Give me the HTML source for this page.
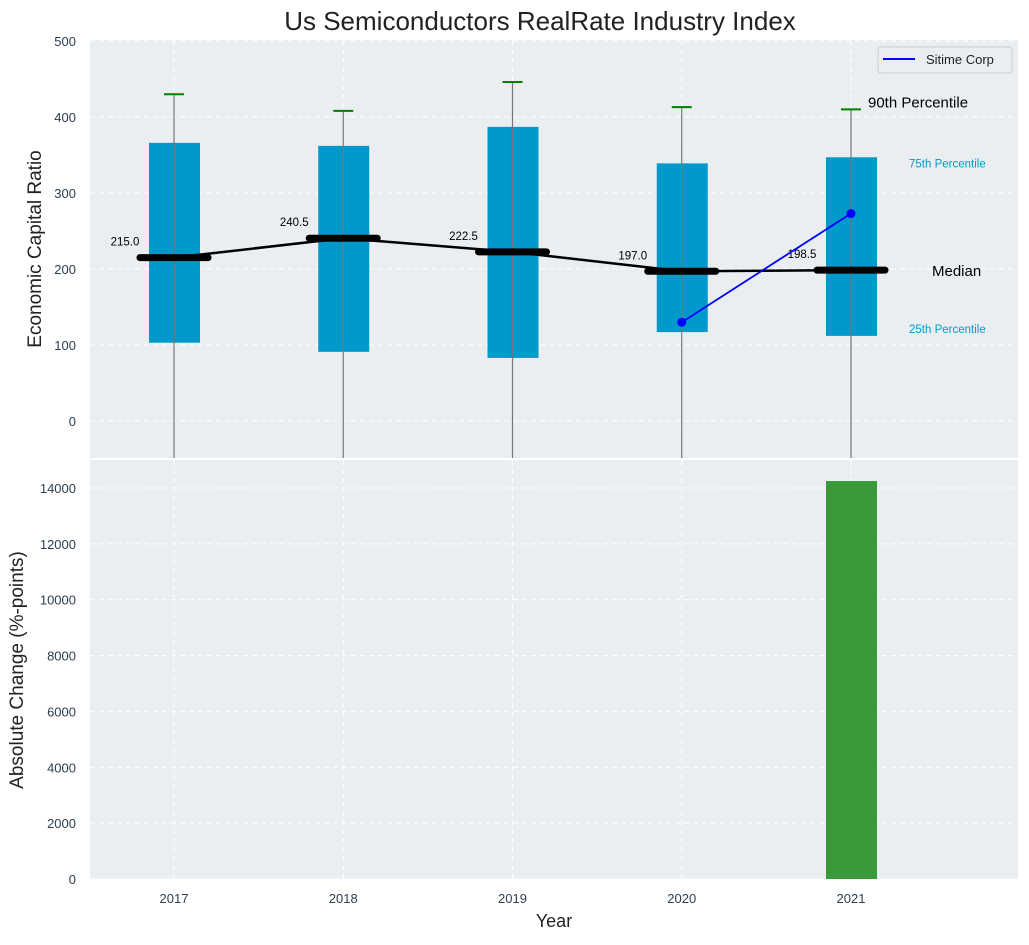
<!DOCTYPE html>
<html><head><meta charset="utf-8"><style>
body{margin:0;background:#fff;font-family:"Liberation Sans",sans-serif;}
svg text{font-family:"Liberation Sans",sans-serif;}
</style></head><body>
<svg id="chart" width="1029" height="940" xmlns="http://www.w3.org/2000/svg"></svg>
<script>
const years=[2017,2018,2019,2020,2021];
const p25=[103,91,83,117,112];
const p75=[366,362,387,339,347];
const p90=[430,408,446,413,410];
const medians=[215,240.5,222.5,197,198.5];
const companyYears=[2020,2021];
const companyVals=[130,273];
const changeVals=[0,0,0,0,14250];
const topTicks=[0,100,200,300,400,500];
const botTicks=[0,2000,4000,6000,8000,10000,12000,14000];

const NS="http://www.w3.org/2000/svg";
const svg=document.getElementById('chart');
function el(tag,attrs,parent){const e=document.createElementNS(NS,tag);for(const k in attrs)e.setAttribute(k,attrs[k]);(parent||svg).appendChild(e);return e;}
const L=90,R=1018,T1=40,B1=458,T2=460,B2=879;
const xs=y=>174+(y-2017)*169.25;
const y1=v=>421-0.76*v;
const y2=v=>B2-v*(391/14000);

let p=el('rect',{x:L,y:T1,width:R-L,height:B1-T1,fill:'#eaeef0'});


p=el('rect',{x:L,y:T2,width:R-L,height:B2-T2,fill:'#eaeef0'});



years.forEach(yr=>{
  el('line',{x1:xs(yr),x2:xs(yr),y1:T1,y2:B1,stroke:'#fff','stroke-dasharray':'5,4','stroke-width':1});
  el('line',{x1:xs(yr),x2:xs(yr),y1:T2,y2:B2,stroke:'#fff','stroke-dasharray':'5,4','stroke-width':1});
  const t=el('text',{x:xs(yr),y:903,'text-anchor':'middle','font-size':13,fill:'#2c3e50'});t.textContent=yr;
  
  
});
topTicks.forEach(v=>{
  el('line',{x1:L,x2:R,y1:y1(v),y2:y1(v),stroke:'#fff','stroke-dasharray':'5,4'});
  const t=el('text',{x:76,y:y1(v)+5,'text-anchor':'end','font-size':13,fill:'#2c3e50'});t.textContent=v;
  
  
});
botTicks.forEach(v=>{
  el('line',{x1:L,x2:R,y1:y2(v),y2:y2(v),stroke:'#fff','stroke-dasharray':'5,4'});
  const t=el('text',{x:76,y:y2(v)+5,'text-anchor':'end','font-size':13,fill:'#2c3e50'});t.textContent=v;
  
  
});

years.forEach((yr,i)=>{
  const x=xs(yr);
  const b=el('rect',{x:x-25,y:y1(p75[i]),width:51,height:y1(p25[i])-y1(p75[i]),fill:'#0099cc'});
  
  
  const w=el('line',{x1:x,x2:x,y1:y1(p90[i]),y2:B1,stroke:'#777','stroke-width':1.2});
  
  
  const c=el('line',{x1:x-10,x2:x+10,y1:y1(p90[i]),y2:y1(p90[i]),stroke:'green','stroke-width':2});
  
  
});
const mline=el('polyline',{points:years.map((yr,i)=>xs(yr)+','+y1(medians[i])).join(' '),fill:'none',stroke:'#000','stroke-width':2.5});


years.forEach((yr,i)=>{
  const x=xs(yr);
  const m=el('line',{x1:x-34,x2:x+34,y1:y1(medians[i]),y2:y1(medians[i]),stroke:'#000','stroke-width':7,'stroke-linecap':'round'});
  
  
  const t=el('text',{x:x-49,y:y1(medians[i])-12,'text-anchor':'middle','font-size':11.5,fill:'#000'});t.textContent=medians[i].toFixed(1);
  
  
});
const cl=el('polyline',{points:companyYears.map((yr,i)=>xs(yr)+','+y1(companyVals[i])).join(' '),fill:'none',stroke:'blue','stroke-width':1.8});


companyYears.forEach((yr,i)=>{
  const c=el('circle',{cx:xs(yr),cy:y1(companyVals[i]),r:4.5,fill:'blue'});
  
  
});
const last=years.length-1;
function ann(txt,x,y,size,color,name){const t=el('text',{x:x,y:y,'font-size':size,fill:color});t.textContent=txt;}
ann('90th Percentile',868,y1(p90[last])-2,15,'#000','p90-annotation');
ann('75th Percentile',909,y1(p75[last])+10,11.5,'#0099cc','p75-annotation');
ann('Median',932,y1(medians[last])+6,15,'#000','median-annotation');
ann('25th Percentile',909,y1(p25[last])-3,11.5,'#0099cc','p25-annotation');

years.forEach((yr,i)=>{
  if(changeVals[i]<=0)return;
  const b=el('rect',{x:xs(yr)-25,y:y2(changeVals[i]),width:51,height:B2-y2(changeVals[i]),fill:'#3a9a3a'});
  
  
});

const lg=el('g',{});


el('rect',{x:878,y:47,width:134,height:26,rx:3,fill:'#eaeef0',stroke:'#ccc'},lg);
el('line',{x1:883,x2:915,y1:59,y2:59,stroke:'blue','stroke-width':2},lg);
const lt=el('text',{x:926,y:64,'font-size':13,fill:'#222'},lg);lt.textContent='Sitime Corp';

const tt=el('text',{x:540,y:30,'text-anchor':'middle','font-size':26,fill:'#222'});tt.textContent='Us Semiconductors RealRate Industry Index';

const xt=el('text',{x:554,y:927,'text-anchor':'middle','font-size':18,fill:'#222'});xt.textContent='Year';

const yt1=el('text',{x:0,y:0,'text-anchor':'middle','font-size':19,fill:'#222',transform:'translate(41,249) rotate(-90)'});yt1.textContent='Economic Capital Ratio';

const yt2=el('text',{x:0,y:0,'text-anchor':'middle','font-size':19,fill:'#222',transform:'translate(23,670) rotate(-90)'});yt2.textContent='Absolute Change (%-points)';

</script>
</body></html>
